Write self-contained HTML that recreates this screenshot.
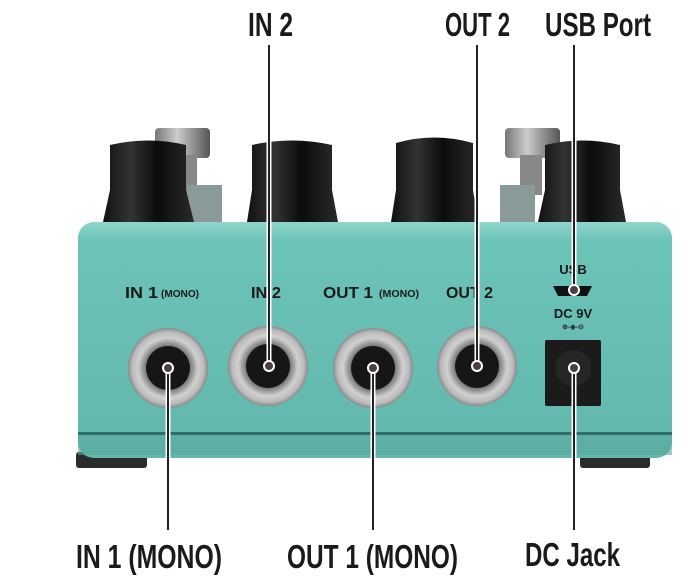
<!DOCTYPE html>
<html><head><meta charset="utf-8"><style>
html,body{margin:0;padding:0;background:#fff;}
svg{display:block}
text{font-family:"Liberation Sans Narrow","Liberation Sans",sans-serif;font-weight:bold;}
</style></head><body>
<svg width="700" height="581" viewBox="0 0 700 581" xmlns="http://www.w3.org/2000/svg">
<defs>
<linearGradient id="knob" x1="0" x2="1"><stop offset="0" stop-color="#111"/><stop offset="0.3" stop-color="#333"/><stop offset="0.6" stop-color="#0c0c0c"/><stop offset="1" stop-color="#2a2a2a"/></linearGradient>
<linearGradient id="sw" x1="0" x2="1"><stop offset="0" stop-color="#777"/><stop offset="0.4" stop-color="#ccc"/><stop offset="1" stop-color="#555"/></linearGradient>
<linearGradient id="body" x1="0" y1="0" x2="0" y2="1"><stop offset="0" stop-color="#8fd6cc"/><stop offset="0.08" stop-color="#6cc3b7"/><stop offset="1" stop-color="#62b7ab"/></linearGradient>
<radialGradient id="silver"><stop offset="0.55" stop-color="#777"/><stop offset="0.75" stop-color="#d0d0d0"/><stop offset="0.9" stop-color="#bbb"/><stop offset="1" stop-color="#8a8a8a"/></radialGradient>
</defs>
<rect x="155" y="128" width="55" height="30" rx="4" fill="url(#sw)"/>
<rect x="175" y="155" width="22" height="40" fill="#888"/>
<rect x="187" y="185" width="35" height="40" fill="#8a9a98"/>
<rect x="505" y="128" width="55" height="30" rx="4" fill="url(#sw)"/>
<rect x="520" y="155" width="22" height="40" fill="#888"/>
<rect x="500" y="185" width="35" height="40" fill="#8a9a98"/>
<path d="M110 145 Q148 136 186 145 L186 190 L194 222 L103 222 L110 190 Z" fill="url(#knob)"/>
<path d="M252 145 Q292 136 332 145 L332 190 L338 222 L247 222 L252 190 Z" fill="url(#knob)"/>
<path d="M396 143 Q434 132 473 143 L473 190 L478 222 L391 222 L396 190 Z" fill="url(#knob)"/>
<path d="M545 145 Q582 136 620 145 L620 190 L626 222 L538 222 L545 190 Z" fill="url(#knob)"/>
<rect x="76" y="452" width="71" height="16" rx="3" fill="#2b2b2b"/>
<rect x="580" y="452" width="70" height="16" rx="3" fill="#2b2b2b"/>
<rect x="78" y="222" width="594" height="236" rx="16" fill="url(#body)"/>
<rect x="78" y="432" width="594" height="3" fill="#2f6e66"/>
<rect x="78" y="435" width="594" height="20" fill="#5aa99d" opacity="0.6"/>
<g fill="#1a1a1a">
<text x="125" y="298" font-size="16" textLength="33" lengthAdjust="spacingAndGlyphs">IN 1</text>
<text x="161" y="297" font-size="10" textLength="38" lengthAdjust="spacingAndGlyphs">(MONO)</text>
<text x="251" y="298" font-size="16" textLength="30" lengthAdjust="spacingAndGlyphs">IN 2</text>
<text x="323" y="298" font-size="16" textLength="50" lengthAdjust="spacingAndGlyphs">OUT 1</text>
<text x="379" y="297" font-size="10" textLength="40" lengthAdjust="spacingAndGlyphs">(MONO)</text>
<text x="446" y="298" font-size="16" textLength="47" lengthAdjust="spacingAndGlyphs">OUT 2</text>
<text x="573" y="274" font-size="13" text-anchor="middle">USB</text>
<text x="573" y="318" font-size="13" text-anchor="middle">DC 9V</text>
</g>
<path d="M553 286 L592 286 L587 296 L558 296 Z" fill="#111"/>
<text x="573" y="329" font-size="7" text-anchor="middle" fill="#333" font-family="Liberation Sans">⊕-◆-⊖</text>
<g>
<circle cx="168" cy="368" r="40" fill="url(#silver)"/><circle cx="168" cy="368" r="22" fill="#161616"/>
<circle cx="268" cy="366" r="40" fill="url(#silver)"/><circle cx="268" cy="366" r="22" fill="#161616"/>
<circle cx="373" cy="368" r="40" fill="url(#silver)"/><circle cx="373" cy="368" r="22" fill="#161616"/>
<circle cx="477" cy="366" r="40" fill="url(#silver)"/><circle cx="477" cy="366" r="22" fill="#161616"/>
<rect x="545" y="340" width="56" height="66" rx="2" fill="#1b1b1b"/>
<circle cx="573" cy="368" r="18" fill="#262626"/>
</g>
<g stroke="#fff" stroke-width="5" fill="none">
<line x1="269" y1="45" x2="269" y2="366"/><line x1="477" y1="45" x2="477" y2="366"/><line x1="574" y1="45" x2="574" y2="290"/>
<line x1="168" y1="368" x2="168" y2="530"/><line x1="373" y1="368" x2="373" y2="530"/><line x1="574" y1="368" x2="574" y2="530"/>
</g>
<g stroke="#222" stroke-width="2" fill="none">
<line x1="269" y1="45" x2="269" y2="362"/><line x1="477" y1="45" x2="477" y2="362"/><line x1="574" y1="45" x2="574" y2="286"/>
<line x1="168" y1="372" x2="168" y2="530"/><line x1="373" y1="372" x2="373" y2="530"/><line x1="574" y1="372" x2="574" y2="530"/>
</g>
<g fill="#4a4040" stroke="#fff" stroke-width="2">
<circle cx="269" cy="366" r="5"/><circle cx="477" cy="366" r="5"/><circle cx="574" cy="290" r="5"/>
<circle cx="168" cy="368" r="5"/><circle cx="373" cy="368" r="5"/><circle cx="574" cy="368" r="5"/>
</g>
<g fill="#1a1a1a" font-size="33">
<text x="248" y="36" textLength="45" lengthAdjust="spacingAndGlyphs">IN 2</text>
<text x="445" y="36" textLength="65" lengthAdjust="spacingAndGlyphs">OUT 2</text>
<text x="545" y="36" textLength="106" lengthAdjust="spacingAndGlyphs">USB Port</text>
<text x="76" y="568" textLength="146" lengthAdjust="spacingAndGlyphs">IN 1 (MONO)</text>
<text x="287" y="568" textLength="171" lengthAdjust="spacingAndGlyphs">OUT 1 (MONO)</text>
<text x="525" y="566" textLength="95" lengthAdjust="spacingAndGlyphs">DC Jack</text>
</g>
</svg>
</body></html>
